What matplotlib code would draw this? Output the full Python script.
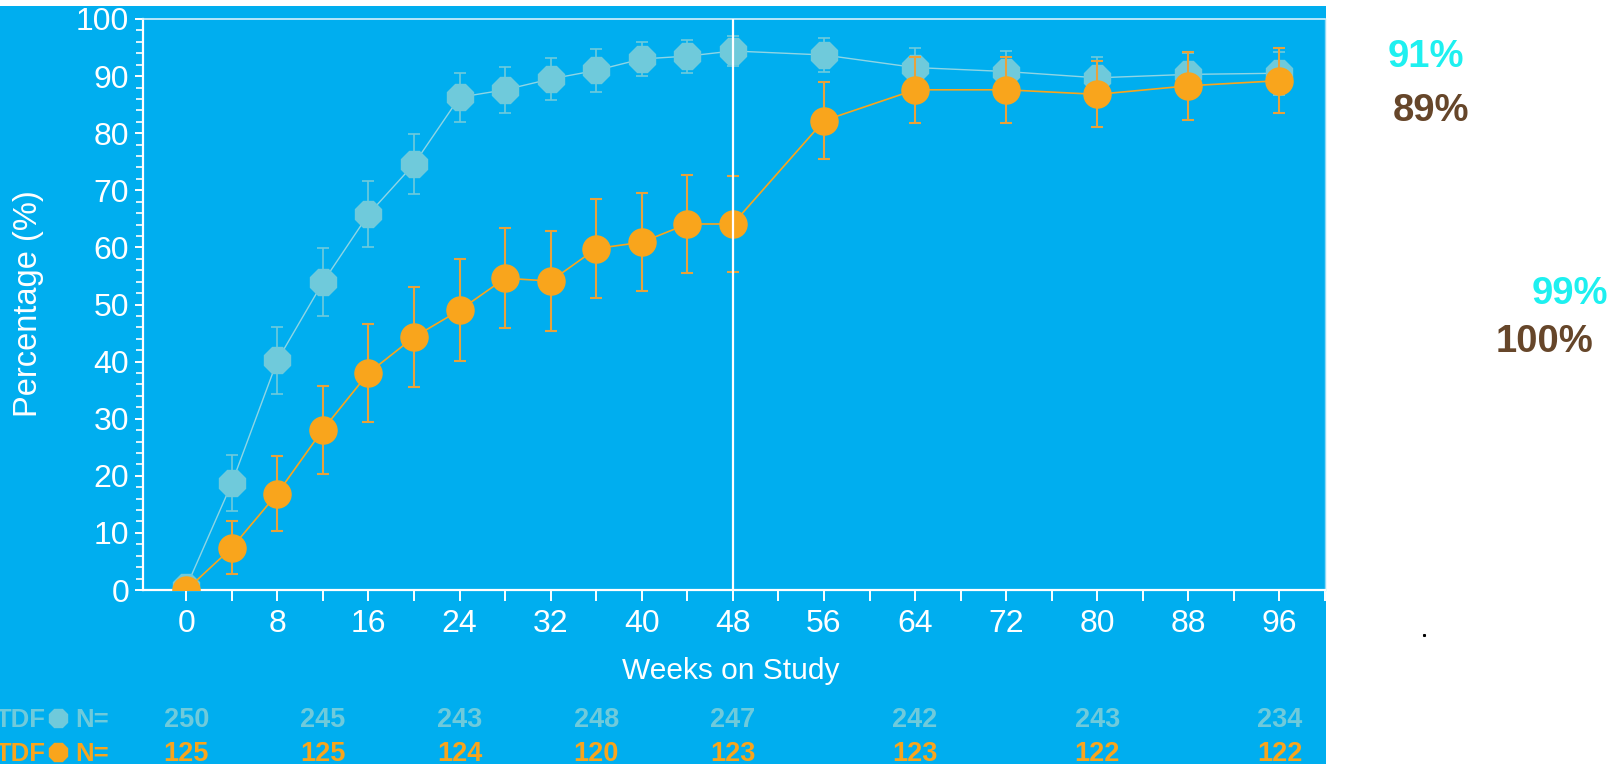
import matplotlib
matplotlib.use("Agg")
import matplotlib.pyplot as plt
import matplotlib.transforms as mtransforms
from matplotlib.patches import Rectangle
from matplotlib.lines import Line2D
from matplotlib.ticker import MultipleLocator

plt.rcParams['font.family'] = ['Liberation Sans', 'DejaVu Sans']

# response over time, two arms
weeks_a = [0, 4, 8, 12, 16, 20, 24, 28, 32, 36, 40, 44, 48, 56, 64, 72, 80, 88, 96]
pct_a = [0.5, 18.7, 40.2, 53.9, 65.8, 74.6, 86.3, 87.6, 89.5, 91.0, 93.0, 93.5, 94.4,
         93.7, 91.5, 90.8, 89.7, 90.3, 90.5]
err_a = [1.0, 4.9, 5.9, 6.0, 5.8, 5.3, 4.3, 4.0, 3.7, 3.7, 3.0, 2.9, 2.7,
         3.0, 3.4, 3.6, 3.7, 3.7, 3.8]

weeks_b = [0, 4, 8, 12, 16, 20, 24, 28, 32, 36, 40, 44, 48, 56, 64, 72, 80, 88, 96]
pct_b = [0.0, 7.4, 16.9, 28.1, 38.0, 44.3, 49.0, 54.6, 54.1, 59.8, 60.9, 64.1, 64.1,
         82.2, 87.6, 87.6, 86.8, 88.3, 89.2]
err_b = [0.0, 4.6, 6.6, 7.7, 8.5, 8.7, 8.9, 8.8, 8.8, 8.7, 8.6, 8.6, 8.4,
         6.7, 5.8, 5.8, 5.8, 6.0, 5.7]

# patients at risk
n_weeks = [0, 12, 24, 36, 48, 64, 80, 96]
n_a = [250, 245, 243, 248, 247, 242, 243, 234]
n_b = [125, 125, 124, 120, 123, 123, 122, 122]

side_labels = ['91%', '89%', '99%', '100%']

BG = '#00AEEF'
C_A = '#6FCADB'
C_A_LINE = '#8FD5E4'
C_B = '#F9A51C'
C_B_ERR = '#E8A23A'
CYAN = '#1EF0F0'
BROWN = '#66462A'

W, H = 1614, 764
fig = plt.figure(figsize=(W / 100, H / 100), dpi=100)
fig.patch.set_facecolor('white')
fig.add_artist(Rectangle((0, 0), 1326 / W, (H - 6) / H, transform=fig.transFigure,
                         facecolor=BG, edgecolor='none', zorder=0))

ax = fig.add_axes([143 / W, (H - 590) / H, (1325 - 143) / W, (590 - 19) / H])
ax.set_facecolor('none')

ax.errorbar(weeks_a, pct_a, yerr=err_a, color=C_A_LINE, ecolor=C_A, elinewidth=1.2,
            capsize=4.5, capthick=1.2, lw=1.0, marker='8', ms=20, mfc=C_A, mec=C_A,
            zorder=3)
ax.errorbar(weeks_b, pct_b, yerr=err_b, color=C_B, ecolor=C_B_ERR, elinewidth=1.5,
            capsize=4.5, capthick=1.5, lw=1.2, marker='o', ms=19.5, mfc=C_B, mec=C_B,
            zorder=4)
ax.axvline(48, color='white', lw=1.6, zorder=5)

ax.set_xlim(-3.8, 100)
ax.set_ylim(0, 100)
ax.xaxis.set_major_locator(MultipleLocator(8))
ax.xaxis.set_minor_locator(MultipleLocator(4))
ax.yaxis.set_major_locator(MultipleLocator(10))
ax.yaxis.set_minor_locator(MultipleLocator(2))

for s in ['left', 'bottom']:
    ax.spines[s].set_color('white')
    ax.spines[s].set_linewidth(1.6)
ax.spines['top'].set_color('#D5F1FD')
ax.spines['top'].set_linewidth(1.2)
ax.spines['right'].set_color('#8FD8F5')
ax.spines['right'].set_linewidth(1.0)

ax.tick_params(axis='y', which='major', direction='out', length=6, width=1.4,
               color='white', labelcolor='white', labelsize=23, pad=4)
ax.tick_params(axis='y', which='minor', direction='out', length=5, width=1.2,
               color='white')
ax.tick_params(axis='x', which='both', direction='out', length=8, width=1.4,
               color='white', labelcolor='white', labelsize=23, pad=6)

fig.text(29 / W, 1 - 304 / H, 'Percentage (%)', rotation=90, ha='center', va='center',
         color='white', fontsize=23.5)
fig.text(731 / W, 1 - 671 / H, 'Weeks on Study', ha='center', va='center',
         color='white', fontsize=21.5)

# N at risk rows under the axis
tr = mtransforms.blended_transform_factory(ax.transData, fig.transFigure)
for vals, color, yy in [(n_a, C_A, 720), (n_b, C_B, 754)]:
    y = 1 - yy / H
    fig.text(46 / W, y, 'TDF', ha='right', va='center', color=color,
             fontsize=18.5, fontweight='bold')
    fig.add_artist(Line2D([58 / W], [y + 0.003], transform=fig.transFigure, marker='8',
                          ms=14, mfc=color, mec=color, ls='none'))
    fig.text(75 / W, y, 'N=', ha='left', va='center', color=color,
             fontsize=18.5, fontweight='bold')
    for wk, v in zip(n_weeks, vals):
        ax.text(wk, y, str(v), transform=tr, ha='center', va='center', color=color,
                fontsize=19.5, fontweight='bold', clip_on=False)

# summary percentages on the right
fig.text(1426 / W, 1 - 57 / H, side_labels[0], ha='center', va='center',
         color=CYAN, fontsize=27.5, fontweight='bold')
fig.text(1431 / W, 1 - 111 / H, side_labels[1], ha='center', va='center',
         color=BROWN, fontsize=27.5, fontweight='bold')
fig.text(1570 / W, 1 - 294 / H, side_labels[2], ha='center', va='center',
         color=CYAN, fontsize=27.5, fontweight='bold')
fig.text(1545 / W, 1 - 342 / H, side_labels[3], ha='center', va='center',
         color=BROWN, fontsize=27.5, fontweight='bold')

fig.add_artist(Line2D([1424 / W], [1 - 635 / H], transform=fig.transFigure,
                      marker='s', ms=1.2, color='black', ls='none'))

fig.savefig('out.png', dpi=100)
